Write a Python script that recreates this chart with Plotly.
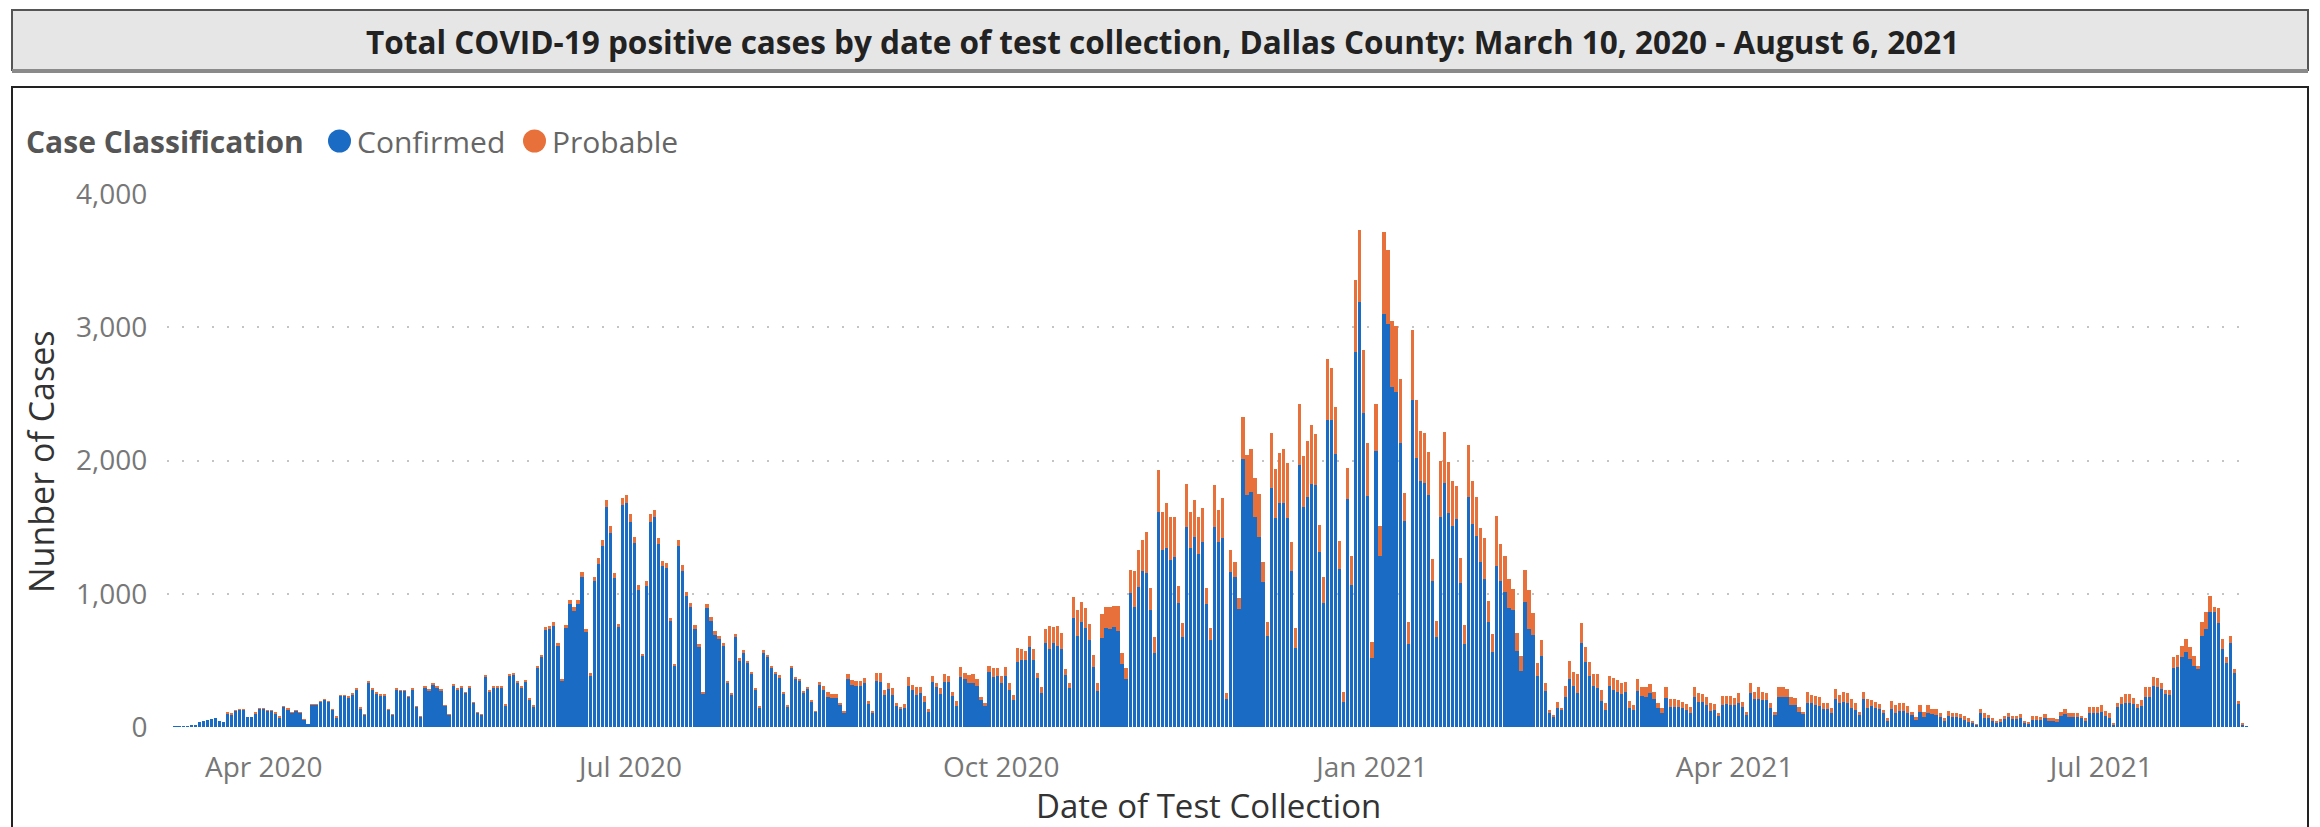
import plotly.graph_objects as go
import pandas as pd

# ---------------- data ----------------
start_date = "2020-03-10"
end_date = "2021-08-06"

confirmed = [
    2, 4, 5, 6, 8, 9, 35, 43, 55, 60,
    68, 43, 35, 105, 97, 122, 130, 130, 76, 76,
    105, 139, 139, 124, 124, 105, 75, 154, 134, 109,
    121, 109, 59, 25, 166, 166, 191, 203, 191, 129,
    75, 235, 235, 223, 247, 282, 142, 92, 337, 282,
    252, 240, 240, 129, 92, 281, 272, 272, 228, 281,
    153, 80, 296, 276, 320, 296, 276, 161, 91, 315,
    281, 295, 256, 300, 182, 109, 91, 379, 270, 299,
    299, 299, 162, 390, 397, 336, 298, 343, 206, 157,
    444, 522, 728, 738,
    760, 610, 350, 740, 920, 872, 920, 1127, 712, 390,
    1092, 1226, 1358, 1654, 1455, 1118, 748, 1663, 1684, 1542,
    1378, 1030, 530, 1057, 1542, 1577, 1370, 1205, 1190, 792,
    462, 1358, 1172, 980, 900, 737, 604, 253, 895, 797,
    694, 660, 608, 336, 245, 675, 498, 555, 478, 400,
    279, 148, 555, 524, 441, 400, 374, 252, 156, 441,
    363, 348, 260, 286, 192, 114,
    315, 277, 227, 220, 220, 165, 110, 357, 315, 310,
    310, 327, 172, 107, 347, 340, 240, 282, 240, 157,
    132, 140, 307, 277, 240, 252, 190, 115, 340, 302,
    245, 340, 340, 232, 157, 377, 357, 327, 327, 310,
    202, 157, 415, 377, 382, 327, 382, 277, 202, 490,
    502, 502, 597, 502, 365, 252, 627, 582, 632, 607,
    582, 390, 290, 815, 682, 790, 740, 652, 452,
    272, 670, 740, 732, 752, 722, 470, 360, 1002, 902,
    1047, 1172, 1157, 877, 552, 1615, 1327, 1340, 1257, 1277,
    932, 672, 1502, 1340, 1427, 1297, 1390, 922, 652, 1502,
    1390, 1422, 207, 1165, 1127, 882, 2015, 1740, 1765, 1577,
    1427, 1090, 682, 1797, 1565, 1682, 1682, 1572, 1172, 590,
    1965, 1652, 1727, 1827, 1815, 1315, 932,
    2304, 2304, 2048, 1188, 188, 1712, 1067, 2814, 3191, 2357,
    1731, 516, 2075, 1282, 3102, 3021, 2554, 2511, 2129, 1543,
    624, 2452, 2021, 1847, 1833, 1739, 1094, 672, 1578, 1833,
    1605, 1511, 1564, 1081, 624, 1726, 1524, 1430, 1242, 1113,
    785, 564, 1210, 1094, 1013, 892, 879, 570, 422, 941,
    737, 691, 382, 530, 269, 108, 81, 140, 126, 226,
    360, 306, 253, 629, 489, 382, 306, 296, 194, 126,
    306, 274, 261, 247, 261, 145,
    127, 272, 232, 227, 252, 207, 140, 107, 215, 152,
    152, 152, 140, 127, 107, 222, 190, 190, 165, 122,
    127, 82, 165, 172, 165, 165, 182, 152, 90, 257,
    207, 207, 202, 202, 140, 90, 222, 222, 222, 165,
    165, 115, 95, 182, 177, 165, 157, 132, 132, 102,
    207, 177, 190, 182, 140, 127, 90, 207, 140, 157,
    140, 132, 102, 52, 132, 102, 122, 122, 107, 90,
    52, 115, 77, 107,
    97, 90, 77, 47, 82, 72, 72, 65, 52, 40,
    27, 15, 102, 65, 65, 47, 32, 40, 57, 77,
    57, 57, 65, 32, 27, 52, 52, 52, 65, 47,
    47, 40, 82, 97, 77, 77, 77, 65, 47, 107,
    107, 107, 115, 82, 65, 22, 147, 172, 182, 177,
    172, 140, 157, 227, 222, 307, 302, 282, 247, 240,
    440, 452, 527, 565, 507, 457, 432, 682, 732, 865,
    865, 777, 582, 482, 632, 402, 172, 22, 3,
]

probable = [
    0, 0, 0, 0, 0, 0, 0, 0, 0, 0,
    0, 0, 0, 1, 1, 1, 1, 1, 0, 0,
    1, 2, 2, 2, 2, 1, 1, 2, 2, 2,
    2, 2, 1, 0, 3, 3, 3, 4, 3, 2,
    1, 4, 4, 4, 5, 5, 2, 1, 6, 5,
    5, 4, 4, 2, 1, 6, 5, 5, 4, 6,
    3, 1, 6, 6, 7, 6, 6, 3, 2, 7,
    6, 7, 6, 7, 4, 2, 2, 9, 7, 8,
    8, 8, 4, 10, 11, 9, 9, 10, 6, 4,
    14, 17, 20, 22,
    25, 19, 10, 23, 32, 29, 32, 40, 25, 13,
    37, 43, 45, 50, 50, 38, 24, 55, 55, 55,
    47, 37, 18, 37, 55, 55, 47, 42, 38, 25,
    14, 45, 43, 33, 33, 26, 20, 8, 30, 28,
    24, 23, 21, 11, 8, 24, 18, 20, 17, 14,
    9, 5, 20, 19, 16, 14, 13, 9, 5, 16,
    13, 12, 9, 10, 7, 4,
    25, 33, 33, 25, 25, 17, 5, 40, 37, 35,
    35, 38, 25, 15, 55, 67, 37, 45, 50, 25,
    20, 30, 70, 38, 57, 45, 42, 17, 42, 30,
    45, 57, 42, 33, 38, 70, 45, 63, 70, 50,
    25, 20, 45, 63, 63, 55, 65, 50, 35, 100,
    80, 70, 85, 80, 42, 50, 105, 175, 120, 150,
    125, 42, 42, 162, 195, 150, 150, 120, 88,
    60, 175, 162, 170, 155, 185, 87, 80, 175, 268,
    285, 235, 308, 163, 125, 312, 288, 342, 320, 300,
    125, 110, 320, 275, 275, 280, 257, 118, 88, 313,
    242, 300, 45, 167, 113, 83, 312, 300, 325, 288,
    325, 150, 108, 410, 375, 375, 408, 410, 218, 150,
    457, 380, 420, 438, 387, 200, 190,
    456, 389, 350, 210, 73, 234, 215, 538, 537, 476,
    403, 121, 350, 229, 613, 559, 494, 500, 484, 210,
    161, 524, 431, 376, 371, 323, 169, 126, 422, 382,
    381, 336, 242, 188, 139, 390, 323, 296, 255, 309,
    161, 135, 376, 282, 269, 221, 153, 134, 108, 234,
    290, 166, 102, 120, 64, 18, 10, 48, 19, 80,
    135, 108, 147, 148, 113, 107, 94, 99, 80, 54,
    76, 94, 94, 86, 80, 48,
    38, 85, 70, 70, 70, 58, 42, 33, 87, 55,
    55, 50, 50, 45, 45, 80, 62, 57, 57, 55,
    45, 20, 67, 60, 67, 50, 70, 38, 25, 75,
    58, 95, 63, 55, 37, 25, 75, 75, 60, 62,
    55, 37, 20, 83, 63, 67, 70, 50, 45, 38,
    75, 63, 75, 70, 67, 50, 25, 58, 67, 45,
    50, 40, 25, 13, 63, 63, 55, 55, 50, 25,
    25, 50, 38, 58,
    35, 42, 30, 18, 40, 30, 30, 32, 30, 25,
    20, 7, 30, 37, 25, 18, 15, 17, 25, 25,
    25, 25, 32, 15, 13, 30, 30, 25, 32, 18,
    18, 17, 33, 35, 25, 25, 25, 17, 18, 45,
    45, 45, 50, 40, 37, 10, 30, 55, 65, 70,
    43, 32, 45, 70, 75, 70, 63, 50, 30, 37,
    87, 88, 80, 92, 90, 75, 25, 108, 133, 117,
    37, 113, 75, 45, 50, 30, 25, 5, 0,
]

tick_dates = ["2020-04-01", "2020-07-01", "2020-10-01", "2021-01-01", "2021-04-01", "2021-07-01"]
tick_labels = ["Apr 2020", "Jul 2020", "Oct 2020", "Jan 2021", "Apr 2021", "Jul 2021"]
y_ticks = [0, 1000, 2000, 3000, 4000]

series_names = ["Confirmed", "Probable"]
legend_title = "Case Classification"
title_text = "Total COVID-19 positive cases by date of test collection, Dallas County: March 10, 2020 - August 6, 2021"
x_title = "Date of Test Collection"
y_title = "Nunber of Cases"

dates = pd.date_range(start_date, end_date, freq="D")
assert len(dates) == len(confirmed) == len(probable), (len(dates), len(confirmed), len(probable))

# ---------------- layout geometry ----------------
# page body has an 8px margin, so the figure is drawn 8px smaller and all
# positions below are expressed in window pixels.
PAGE = 8
WIN_W, WIN_H = 2320, 827
W, H = WIN_W - PAGE, WIN_H - PAGE
LW, RW, TW, BW = 167, 2250, 194, 727  # plot area in window pixels


def px(x):
    return (x - LW) / (RW - LW)


def py(y):
    return (BW - y) / (BW - TW)


BLUE = "#1a6bc4"
ORANGE = "#e8703a"
FONT = "Open Sans"

fig = go.Figure()
fig.add_trace(go.Bar(x=dates, y=confirmed, name=series_names[0],
                     marker=dict(color=BLUE, line=dict(width=0))))
fig.add_trace(go.Bar(x=dates, y=probable, name=series_names[1],
                     marker=dict(color=ORANGE, line=dict(width=0))))

shapes = [
    # title banner
    dict(type="rect", xref="paper", yref="paper", x0=px(12), x1=px(2308), y0=py(10), y1=py(70),
         fillcolor="#e6e6e6", line=dict(color="#555555", width=2), layer="below"),
    dict(type="line", xref="paper", yref="paper", x0=px(12), x1=px(2308), y0=py(71), y1=py(71),
         line=dict(color="#8a8a8a", width=4)),
    # chart panel
    dict(type="rect", xref="paper", yref="paper", x0=px(12), x1=px(2308), y0=py(87), y1=py(840),
         fillcolor="rgba(0,0,0,0)", line=dict(color="#222222", width=2), layer="below"),
]
# legend dots
LEG_Y = 141
R_DOT = 11.5
for cx, color in [(339.5, BLUE), (534.5, ORANGE)]:
    shapes.append(dict(type="circle", xref="paper", yref="paper",
                       x0=px(cx - R_DOT), x1=px(cx + R_DOT), y0=py(LEG_Y + R_DOT), y1=py(LEG_Y - R_DOT),
                       fillcolor=color, line=dict(width=0)))

annotations = [
    dict(text="<b>" + title_text + "</b>", xref="paper", yref="paper", x=px(1162), y=py(42),
         xanchor="center", yanchor="middle", showarrow=False,
         font=dict(family=FONT, size=31.5, color="#222222")),
    dict(text="<b>" + legend_title + "</b>", xref="paper", yref="paper", x=px(24), y=py(LEG_Y),
         xanchor="left", yanchor="middle", showarrow=False,
         font=dict(family=FONT, size=30, color="#555555")),
    dict(text=series_names[0], xref="paper", yref="paper", x=px(355), y=py(LEG_Y),
         xanchor="left", yanchor="middle", showarrow=False,
         font=dict(family=FONT, size=30, color="#666666")),
    dict(text=series_names[1], xref="paper", yref="paper", x=px(550), y=py(LEG_Y),
         xanchor="left", yanchor="middle", showarrow=False,
         font=dict(family=FONT, size=30, color="#666666")),
    dict(text=y_title, xref="paper", yref="paper", x=px(41), y=py(462), textangle=-90,
         xanchor="center", yanchor="middle", showarrow=False,
         font=dict(family=FONT, size=34, color="#333333")),
    dict(text=x_title, xref="paper", yref="paper", x=px(1208), y=py(805),
         xanchor="center", yanchor="middle", showarrow=False,
         font=dict(family=FONT, size=33, color="#333333")),
]

fig.update_layout(
    width=W, height=H,
    barmode="stack", bargap=0.2,
    margin=dict(l=LW - PAGE, r=WIN_W - RW, t=TW - PAGE, b=WIN_H - BW, pad=0),
    paper_bgcolor="white", plot_bgcolor="white",
    font=dict(family=FONT, color="#666666"),
    showlegend=False,
    xaxis=dict(
        type="date", range=["2020-03-08", "2021-08-06 21:36"],
        tickmode="array", tickvals=tick_dates, ticktext=tick_labels,
        tickfont=dict(family=FONT, size=28, color="#777777"),
        ticks="outside", ticklen=15, tickcolor="rgba(0,0,0,0)",
        showgrid=False, zeroline=False, showline=False, fixedrange=True,
    ),
    yaxis=dict(
        range=[0, 4000], tickmode="array", tickvals=y_ticks, tickformat=",",
        tickfont=dict(family=FONT, size=28, color="#777777"),
        ticks="outside", ticklen=13, tickcolor="rgba(0,0,0,0)",
        showgrid=True, gridcolor="#c4c4c4", gridwidth=2, griddash="2px,13px",
        zeroline=False, showline=False, fixedrange=True,
    ),
    shapes=shapes,
    annotations=annotations,
)

fig.write_html("out.html")
